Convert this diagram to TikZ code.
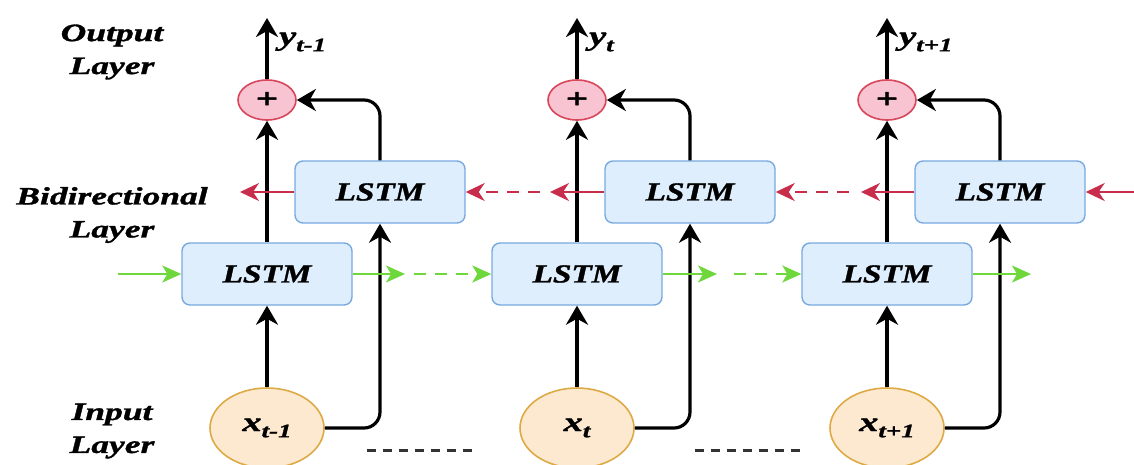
\documentclass[tikz,border=0pt]{standalone}
\usepackage{fontspec}
\usetikzlibrary{arrows.meta,shapes.geometric}
\newfontfamily\lab[FakeStretch=1.42,FakeBold=1.3]{Liberation Serif}
\newfontfamily\boxlab[FakeStretch=1.28,FakeBold=1.3]{Liberation Serif}
\definecolor{lstmF}{RGB}{222,238,252}
\definecolor{lstmB}{RGB}{120,170,225}
\definecolor{plusF}{RGB}{248,196,210}
\definecolor{plusB}{RGB}{215,70,90}
\definecolor{inpF}{RGB}{253,232,208}
\definecolor{inpB}{RGB}{222,170,70}
\definecolor{gArr}{RGB}{110,215,60}
\definecolor{rArr}{RGB}{200,45,75}
\newcommand\mysub[2]{#1\raisebox{-0.5ex}{\fontsize{19}{19}\selectfont #2}}
\begin{document}
\begin{tikzpicture}[x=1pt,y=-1pt,
  every node/.style={font=\lab\bfseries\itshape\fontsize{25}{33}\selectfont, inner sep=0pt},
  lstmn/.style={rectangle, rounded corners=8pt, draw=lstmB, fill=lstmF, line width=1.4pt,
    minimum width=170pt, minimum height=62pt, font=\boxlab\bfseries\itshape\fontsize{26}{26}\selectfont},
  plusn/.style={ellipse, draw=plusB, fill=plusF, line width=1.6pt, minimum width=58pt, minimum height=40pt,
    font=\lab\bfseries\fontsize{28}{28}\selectfont},
  inpn/.style={ellipse, draw=inpB, fill=inpF, line width=1.6pt, minimum width=114pt, minimum height=80pt,
    font=\lab\bfseries\itshape\fontsize{27}{27}\selectfont},
  ylab/.style={anchor=west, font=\lab\bfseries\itshape\fontsize{27}{27}\selectfont},
  conn/.style={draw=black, line width=3.2pt, -{Stealth[length=19pt,width=22pt,inset=6pt]}},
  garr/.style={draw=gArr, line width=1.8pt, -{Stealth[length=19pt,width=17pt,inset=5pt]}},
  rarr/.style={draw=rArr, line width=1.6pt, -{Stealth[length=19pt,width=18pt,inset=6pt]}},
  gdash/.style={dash pattern=on 12pt off 9pt},
  bdash/.style={draw=black!80, line width=3pt, dash pattern=on 9pt off 7pt},
  layerlab/.style={align=center}
]
\clip (0,0) rectangle (1134,464);
\fill[white] (0,0) rectangle (1134,464);

% left labels
\node[layerlab] (lout) at (112,52) {Output\\Layer};
\node[layerlab] (lbid) at (112,215) {Bidirectional\\Layer};
\node[layerlab] (linp) at (112,431) {Input\\Layer};

\foreach \i/\cx/\s in {1/267/t-1, 2/577/t, 3/887/t+1} {
  \node[inpn] (x\i) at (\cx,428) {\mysub{x}{\s}};
  \node[lstmn] (f\i) at (\cx,274) {LSTM};
  \node[lstmn] (b\i) at (\cx+113,192) {LSTM};
  \node[plusn] (p\i) at (\cx,100) {+};
  \coordinate (o\i) at (\cx,18);
  \node[ylab] (y\i) at (\cx+12,42) {\mysub{y}{\s}};
  \draw[conn] (x\i) -- (f\i);
  \draw[conn] (f\i) -- (p\i);
  \draw[conn] (p\i) -- (o\i);
  \draw[conn, rounded corners=16pt] (x\i.east) -| (b\i.south);
  \draw[conn, rounded corners=16pt] (b\i.north) |- (p\i.east);
}

% forward (green) chain
\coordinate (gin) at (118,274);
\coordinate (g1a) at (405,274);
\coordinate (g1b) at (414,274);
\coordinate (g2a) at (717,274);
\coordinate (g2b) at (734,274);
\coordinate (g3a) at (1031,274);
\draw[garr] (gin) -- (f1.west);
\draw[garr] (f1.east) -- (g1a);
\draw[garr, gdash] (g1b) -- (f2.west);
\draw[garr] (f2.east) -- (g2a);
\draw[garr, gdash] (g2b) -- (f3.west);
\draw[garr] (f3.east) -- (g3a);

% backward (red) chain
\coordinate (r1a) at (240,192);
\coordinate (r2a) at (550,192);
\coordinate (r2b) at (540,192);
\coordinate (r3a) at (861,192);
\coordinate (r3b) at (849,192);
\coordinate (rin) at (1134,192);
\draw[rarr] (b1.west) -- (r1a);
\draw[rarr] (b2.west) -- (r2a);
\draw[rarr, gdash] (r2b) -- (b1.east);
\draw[rarr] (b3.west) -- (r3a);
\draw[rarr, gdash] (r3b) -- (b2.east);
\draw[rarr] (rin) -- (b3.east);

% dashed continuation lines
\coordinate (d1a) at (367,450);
\coordinate (d1b) at (478,450);
\coordinate (d2a) at (695,450);
\coordinate (d2b) at (807,450);
\draw[bdash] (d1a) -- (d1b);
\draw[bdash] (d2a) -- (d2b);
\end{tikzpicture}
\end{document}
